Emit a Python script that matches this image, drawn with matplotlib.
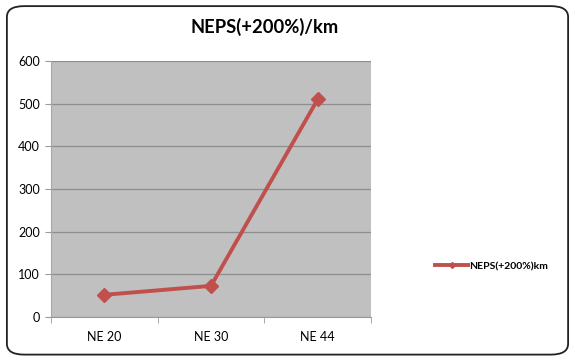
import matplotlib
matplotlib.use("Agg")
import matplotlib.pyplot as plt
from matplotlib.patches import FancyBboxPatch
from matplotlib.lines import Line2D

categories = ["NE 20", "NE 30", "NE 44"]
values = [52, 73, 510]
series_name = "NEPS(+200%)km"
title = "NEPS(+200%)/km"
yticks = [0, 100, 200, 300, 400, 500, 600]

plt.rcParams['font.family'] = ['Lato', 'DejaVu Sans']

fig = plt.figure(figsize=(5.75, 3.6), dpi=100)
fig.patch.set_facecolor("white")

frame = FancyBboxPatch((0.012, 0.015), 0.976, 0.968,
                       boxstyle="round,pad=0,rounding_size=0.03",
                       transform=fig.transFigure, facecolor="none",
                       edgecolor="#222222", linewidth=1.3, zorder=5)
fig.patches.append(frame)

ax = fig.add_axes([0.0887, 0.1194, 0.5565, 0.7112])
ax.set_facecolor("#C0C0C0")
x = list(range(len(categories)))
ax.plot(x, values, color="#C0504D", lw=2.8, marker="D", markersize=7,
        markerfacecolor="#C0504D", markeredgecolor="#C0504D", zorder=3)
ax.set_xlim(-0.5, len(categories) - 0.5)
ax.set_ylim(0, 600)
ax.set_yticks(yticks)
ax.set_yticklabels([str(v) for v in yticks], fontsize=9)
ax.yaxis.grid(True, color="#8E8E8E", lw=0.9)
ax.set_axisbelow(True)
ax.set_xticks(x)
ax.set_xticklabels(categories, fontsize=9)
ax.tick_params(axis="x", length=0, pad=10)
ax.set_xticks([-0.5, 0.5, 1.5, 2.5], minor=True)
ax.tick_params(axis="x", which="minor", length=4, color="#9A9A9A")
ax.tick_params(axis="y", length=4, color="#9A9A9A", pad=4)
for s in ["top", "right"]:
    ax.spines[s].set_visible(False)
ax.spines["left"].set_color("#A8A8A8")
ax.spines["bottom"].set_color("#9A9A9A")

fig.text(0.461, 0.925, title, ha="center", va="center", fontsize=13.2, fontweight="bold")

handle = Line2D([], [], color="#C0504D", lw=2.8, marker="D", markersize=3)
leg = fig.legend([handle], [series_name], loc="center left",
                 bbox_to_anchor=(0.74, 0.26), frameon=False,
                 prop={"size": 7.5, "weight": "bold"}, handlelength=3.2,
                 handletextpad=0.1)

fig.savefig("out.png", dpi=100)
